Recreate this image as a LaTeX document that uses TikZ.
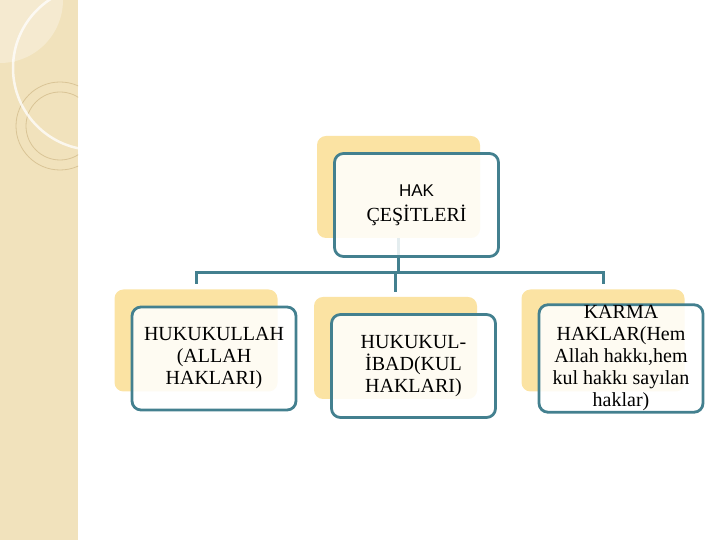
\documentclass[tikz,border=0pt]{standalone}
\usepackage{fontspec}
\setmainfont{Liberation Serif}
\newfontfamily\hakfont{Liberation Sans}
\usepackage{tikz}
\usetikzlibrary{positioning,calc,backgrounds}
\definecolor{strip}{HTML}{F1E2BC}
\definecolor{ring}{HTML}{D9C496}
\definecolor{shad}{HTML}{FBE3A3}
\definecolor{edge}{HTML}{43808F}
\tikzset{
  card/.style={draw=edge, line width=2.8pt, rounded corners=9pt, fill=white, fill opacity=0.86,
               text opacity=1, minimum width=164pt, minimum height=103pt, inner sep=1pt,
               align=center, font=\fontsize{20}{22}\selectfont},
  shade/.style={fill=shad, rounded corners=9pt, minimum width=163pt, minimum height=102pt},
  link/.style={draw=edge, line width=3pt},
}

\begin{document}
\begin{tikzpicture}[x=1pt,y=1pt]
  \useasboundingbox (0,0) rectangle (720,540);
  % left decoration strip
  \fill[strip] (0,0) rectangle (78,540);
  \begin{scope}
    \clip (0,0) rectangle (78,540);
    \fill[white,opacity=0.3] (0,540) circle (63);
    \draw[ring,line width=0.8pt] (60,414) circle (44);
    \draw[ring,line width=0.8pt] (60,414) circle (34);
    \draw[white,opacity=0.75,line width=2.5pt] (95,472) circle (82);
  \end{scope}
  % cards
  \node[card] (top) at (416.5,335) {{\hakfont\fontsize{17}{19}\selectfont HAK}\\[3pt]ÇEŞİTLERİ};
  \node[card] (left) at (214,181.5) {HUKUKULLAH\\(ALLAH\\HAKLARI)};
  \node[card] (mid) at (413.5,174) {HUKUKUL-\\İBAD(KUL\\HAKLARI)};
  \node[card] (right) at (621,181.5) {KARMA\\HAKLAR(Hem\\Allah hakkı,hem\\kul hakkı sayılan\\haklar)};
  \begin{scope}[on background layer]
    \node[shade] (topsh) at ($(top)+(-18,18)$) {};
    \node[shade] (leftsh) at ($(left)+(-18,18)$) {};
    \node[shade] (midsh) at ($(mid)+(-18,18)$) {};
    \node[shade] (rightsh) at ($(right)+(-18,18)$) {};
    \coordinate (bus) at ($(topsh.south)+(0,-34)$);
    \draw[link] (topsh.south) -- (bus);
    \draw[link,shorten >=5pt] (bus) -| (leftsh.north);
    \draw[link,shorten >=5pt] (bus) -| (midsh.north);
    \draw[link,shorten >=5pt] (bus) -| (rightsh.north);
  \end{scope}
\end{tikzpicture}
\end{document}
